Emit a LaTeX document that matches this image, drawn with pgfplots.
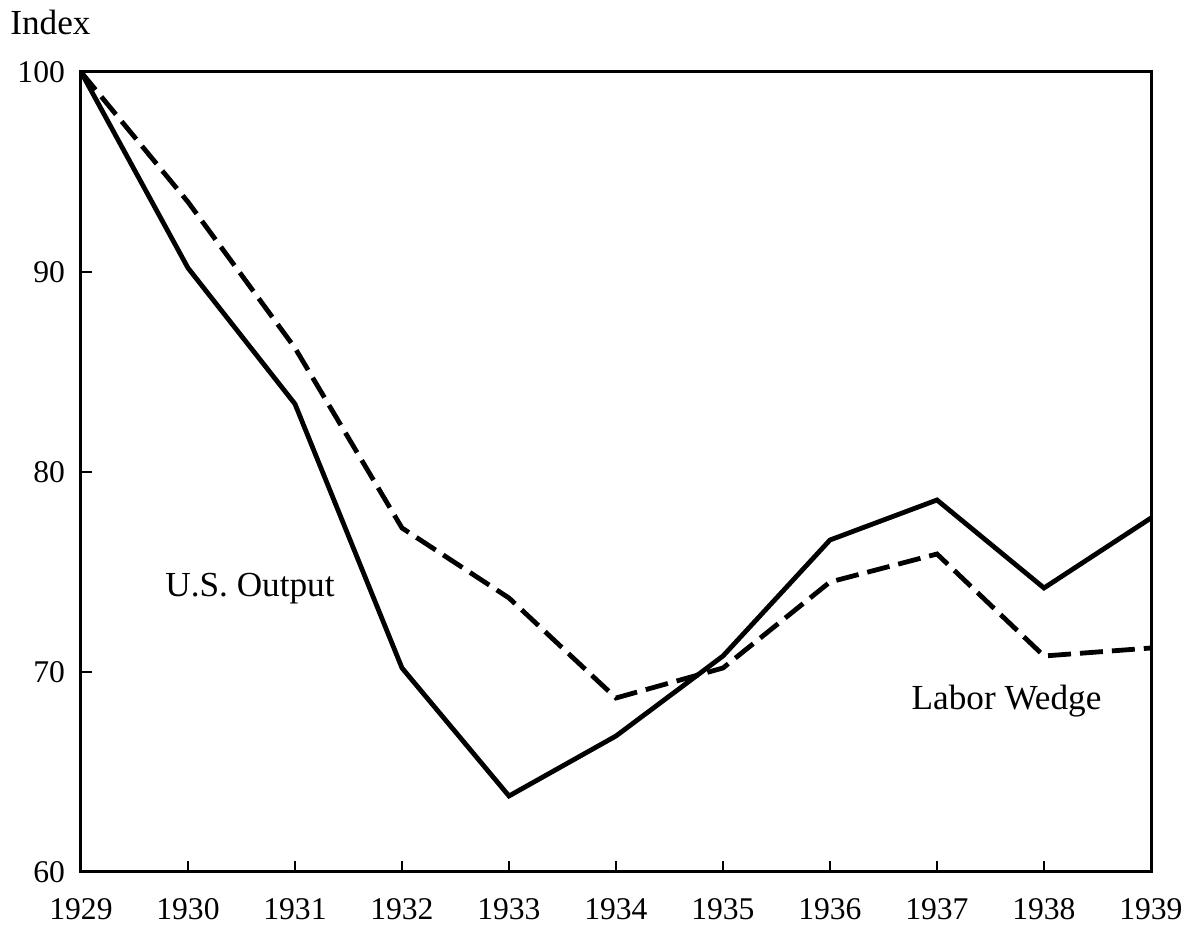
\documentclass[border=0pt]{standalone}
\usepackage{fontspec}
\setmainfont{Liberation Serif}
\usepackage{pgfplots}
\pgfplotsset{compat=1.18}
\begin{document}
\fontsize{17.6pt}{21pt}\selectfont
\begin{tikzpicture}
\useasboundingbox (-40.5pt,-26.5pt) rectangle (554.5pt,436pt);
\begin{axis}[
  at={(0pt,0pt)}, anchor=south west,
  scale only axis, width=535pt, height=400pt,
  xmin=1929, xmax=1939, ymin=60, ymax=100,
  xtick={1929,...,1939}, ytick={60,70,80,90,100},
  tick align=inside, major tick length=5.5pt,
  xtick pos=bottom, ytick pos=left,
  axis line style={line width=1.5pt},
  tick style={line width=1pt, black},
  /pgf/number format/assume math mode=true,
  tick label style={font=\fontsize{15.8pt}{18pt}\selectfont},
  x tick label style={/pgf/number format/1000 sep={}, yshift=-7.3pt},
  y tick label style={xshift=-2pt},
  clip=false,
]
\addplot[black, line width=2.4pt, line join=miter] coordinates {
(1929,100) (1930,90.2) (1931,83.4) (1932,70.2) (1933,63.8) (1934,66.8)
(1935,70.8) (1936,76.6) (1937,78.6) (1938,74.2) (1939,77.7)};
\addplot[black, line width=2.4pt, dash pattern=on 11.5pt off 4.5pt] coordinates {
(1929,100) (1930,93.5) (1931,86.2) (1932,77.2) (1933,73.7) (1934,68.7)
(1935,70.2) (1936,74.5) (1937,75.9) (1938,70.8) (1939,71.2)};
\node[anchor=base west, inner sep=0pt] at (axis cs:1929.785,73.77) {U.S. Output};
\node[anchor=base west, inner sep=0pt] at (axis cs:1936.76,68.1) {Labor Wedge};
\end{axis}
\node[anchor=base west, inner sep=0pt] at (-35.5pt,418.5pt) {Index};
\end{tikzpicture}
\end{document}
